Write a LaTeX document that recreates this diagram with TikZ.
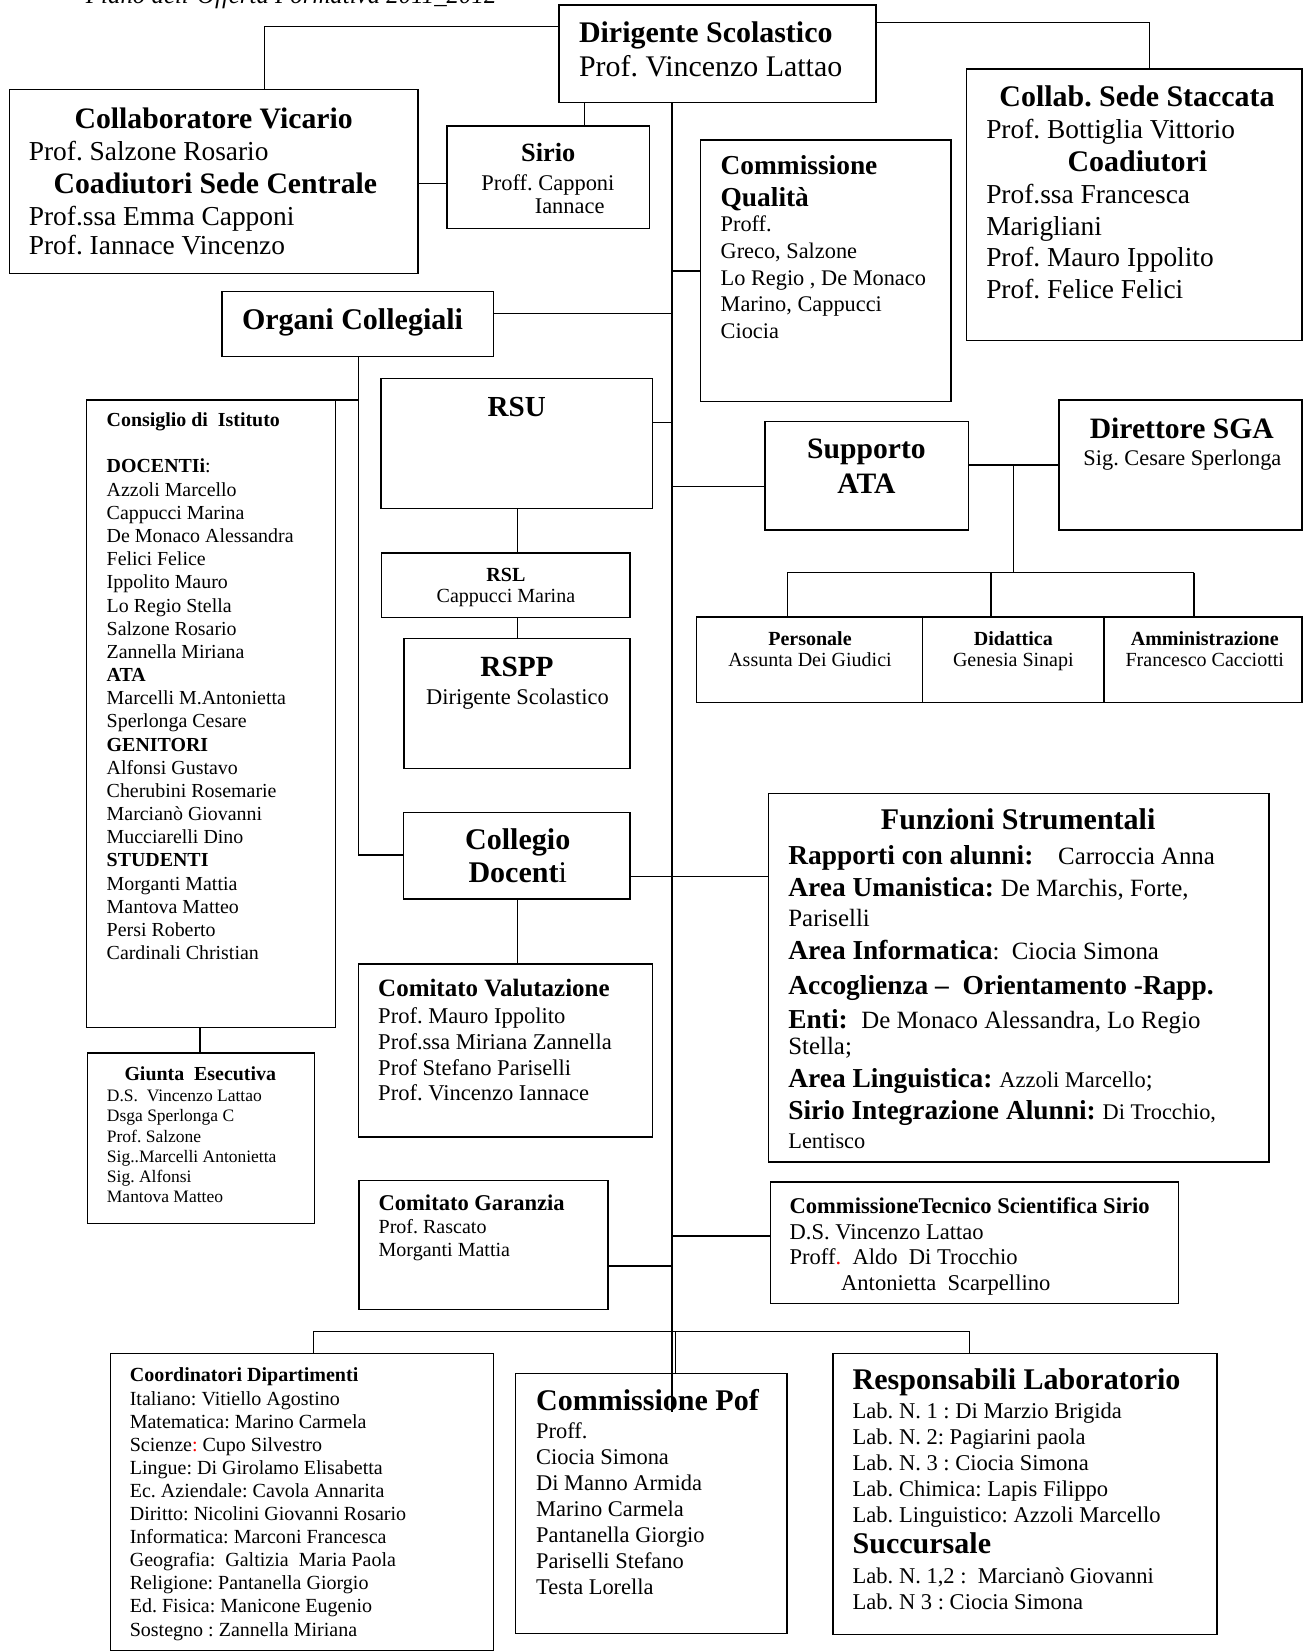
\documentclass[tikz,border=0pt]{standalone}
\usepackage{fontspec}
\setmainfont{Liberation Serif}
\newcommand\myfs[1]{\fontsize{#1}{#1}\selectfont}
\newcommand\bx[5]{\node[boxx, minimum width=#4pt-#2pt, minimum height=#5pt-#3pt] (#1) at (#2,#3) {};}
\frenchspacing
\begin{document}
\frenchspacing
\begin{tikzpicture}[x=1pt,y=-1pt,
  boxx/.style={draw, line width=1.4pt, inner sep=0pt, outer sep=0pt, anchor=north west},
  ln/.style={line width=1.4pt},
  tl/.style={anchor=base west, inner sep=0pt},
  tc/.style={anchor=base, inner sep=0pt}]
\useasboundingbox (0,0) rectangle (1237,1568);

% ---------- boxes ----------
\bx{dir}{530.6}{4.7}{831.6}{97.5}
\bx{colv}{8.8}{84.8}{396.8}{259.5}
\bx{sirio}{424.3}{119.6}{616.5}{216.8}
\bx{stacc}{917.4}{65.5}{1235.8}{323.4}
\bx{qual}{665}{132.9}{902.6}{381.3}
\bx{organi}{210.6}{276.9}{468.3}{338.6}
\bx{consiglio}{81.9}{379.7}{318.4}{975.2}
\bx{rsu}{361.6}{359.2}{619.5}{482.6}
\bx{rsl}{362.3}{524.7}{598}{586}
\bx{rspp}{383.5}{606}{598}{729.4}
\bx{supp}{726}{400.3}{919.4}{503.1}
\bx{dsga}{1005}{379.7}{1235.8}{503.1}
\bx{pers}{661}{585.4}{875.7}{666.8}
\bx{did}{875.7}{585.4}{1047.9}{666.8}
\bx{amm}{1047.9}{585.4}{1235.8}{666.8}
\bx{coll}{382.8}{771.2}{598.1}{853.1}
\bx{funz}{729.2}{752.9}{1204.5}{1102.8}
\bx{valut}{340.4}{915.1}{619.3}{1079}
\bx{giunta}{83.2}{999.3}{298.6}{1161.3}
\bx{garanz}{340.7}{1120.5}{577.2}{1242.9}
\bx{ctec}{731.2}{1122}{1118.6}{1237}
\bx{coord}{104.7}{1284.7}{468.3}{1566.8}
\bx{pof}{489.3}{1303.7}{746.8}{1550.5}
\bx{resp}{790.6}{1284.7}{1155.1}{1551.5}

% ---------- connectors ----------
\coordinate (jA) at (251,25.3);
\draw[ln] (dir.west |- jA) -| (colv.north -| jA);
\coordinate (jB) at (1091,21.5);
\draw[ln] (dir.east |- jB) -| (stacc.north -| jB);
\coordinate (jC) at (554.6,0);
\draw[ln] (dir.south -| jC) -- (sirio.north -| jC);
\coordinate (jD) at (0,174);
\draw[ln] (colv.east |- jD) -- (sirio.west |- jD);
\coordinate (sp) at (637.6,1340);
\draw[ln] (dir.south -| sp) -- (sp);
\coordinate (jE) at (0,257);
\draw[ln] (sp |- jE) -- (qual.west |- jE);
\coordinate (jF) at (0,297.5);
\draw[ln] (organi.east |- jF) -- (sp |- jF);
\coordinate (jG) at (340.4,811.7);
\draw[ln] (organi.south -| jG) -- (jG) -- (coll.west |- jG);
\draw[ln] (consiglio.north east) -- (consiglio.north east -| jG);
\coordinate (jH) at (0,401);
\draw[ln] (rsu.east |- jH) -- (sp |- jH);
\coordinate (jI) at (491.4,0);
\draw[ln] (rsu.south -| jI) -- (rsl.north -| jI);
\draw[ln] (rsl.south -| jI) -- (rspp.north -| jI);
\coordinate (jJ) at (0,462);
\draw[ln] (sp |- jJ) -- (supp.west |- jJ);
\coordinate (jK) at (962,441.4);
\draw[ln] (supp.east |- jK) -- (dsga.west |- jK);
\coordinate (jL) at (962,543.6);
\draw[ln] (jK) -- (jL);
\coordinate (jM1) at (747.2,543.6);
\coordinate (jM2) at (940.7,543.6);
\coordinate (jM3) at (1133.4,543.6);
\draw[ln] (jM1) -- (jM3);
\draw[ln] (jM1) -- (pers.north -| jM1);
\draw[ln] (jM2) -- (did.north -| jM2);
\draw[ln] (jM3) -- (amm.north -| jM3);
\coordinate (jN) at (0,832);
\draw[ln] (coll.east |- jN) -- (funz.west |- jN);
\draw[ln] (coll.south -| jI) -- (valut.north -| jI);
\coordinate (jO) at (189.8,0);
\draw[ln] (consiglio.south -| jO) -- (giunta.north -| jO);
\coordinate (jP) at (0,1201.5);
\draw[ln] (garanz.east |- jP) -- (sp |- jP);
\coordinate (jQ) at (0,1173);
\draw[ln] (sp |- jQ) -- (ctec.west |- jQ);
\coordinate (jR1) at (297.7,1264);
\coordinate (jR2) at (920.4,1264);
\coordinate (jR3) at (640.9,1264);
\draw[ln] (coord.north -| jR1) -- (jR1) -- (jR2) -- (resp.north -| jR2);
\draw[ln] (jR3) -- (pof.north -| jR3);

% ---------- texts ----------
\node[tl, font=\myfs{23.6}\itshape] (hdr) at (81.4,3.2) {Piano dell'Offerta Formativa 2011\_2012};

\node[tl, font=\myfs{28.4}\bfseries] (tdir1) at (549.4,40) {Dirigente Scolastico};
\node[tl, font=\myfs{28.4}] (tdir2) at (549.4,73) {Prof. Vincenzo Lattao};

\node[tc, font=\myfs{28.2}\bfseries] (tcv1) at (202.8,121.8) {Collaboratore Vicario};
\node[tl, font=\myfs{26}] (tcv2) at (27.2,151.9) {Prof. Salzone Rosario};
\node[tc, font=\myfs{28.2}\bfseries] (tcv3) at (204.4,183.5) {Coadiutori Sede Centrale};
\node[tl, font=\myfs{26}] (tcv4) at (27.2,213.6) {Prof.ssa Emma Capponi};
\node[tl, font=\myfs{26}] (tcv5) at (27.2,242) {Prof. Iannace Vincenzo};

\node[tc, font=\myfs{25}\bfseries] (tsi1) at (520.4,153.5) {Sirio};
\node[tl, font=\myfs{21.3}] (tsi2) at (456.8,180.4) {Proff. Capponi};
\node[tl, font=\myfs{21.3}] (tsi3) at (507.4,202.5) {Iannace};

\node[tc, font=\myfs{28.4}\bfseries] (tst1) at (1079.2,101.3) {Collab. Sede Staccata};
\node[tl, font=\myfs{26}] (tst2) at (935.9,131.3) {Prof. Bottiglia Vittorio};
\node[tc, font=\myfs{28.4}\bfseries] (tst3) at (1079.6,163) {Coadiutori};
\foreach [count=\i from 0] \t in {Prof.ssa Francesca, Marigliani, Prof. Mauro Ippolito, Prof. Felice Felici}
  \node[tl, font=\myfs{26}] (tstb\i) at (935.9, 193+30.1*\i) {\t};

\node[tl, font=\myfs{26}\bfseries] (tq1) at (683.8,166.1) {Commissione};
\node[tl, font=\myfs{26}\bfseries] (tq2) at (683.8,196.2) {Qualità};
\foreach [count=\i from 0] \t in {Proff., {Greco, Salzone}, {Lo Regio , De Monaco}, {Marino, Cappucci}, Ciocia}
  \node[tl, font=\myfs{21.2}] (tqb\i) at (683.8, 220+25.3*\i) {\t};

\node[tc, font=\myfs{28.5}\bfseries] (tor) at (334.6,312.6) {Organi Collegiali};

\node[tl, font=\myfs{18.9}\bfseries] (tci) at (101.1,404.9) {Consiglio di~ Istituto};
\foreach [count=\i from 0] \t in {{\textbf{DOCENTIi}:}, Azzoli Marcello, Cappucci Marina, De Monaco Alessandra, Felici Felice, Ippolito Mauro, Lo Regio Stella, Salzone Rosario, Zannella Miriana, \textbf{ATA}, Marcelli M.Antonietta, Sperlonga Cesare, \textbf{GENITORI}, Alfonsi Gustavo, Cherubini Rosemarie, Marcianò Giovanni, Mucciarelli Dino, \textbf{STUDENTI}, Morganti Mattia, Mantova Matteo, Persi Roberto, Cardinali Christian}
  \node[tl, font=\myfs{18.9}] (tcib\i) at (101.1, 448.9+22*\i) {\t};

\node[tc, font=\myfs{27.6}\bfseries] (trsu) at (490.5,395.5) {RSU};
\node[tc, font=\myfs{19}\bfseries] (trsl1) at (480.2,551.6) {RSL};
\node[tc, font=\myfs{19}] (trsl2) at (480.2,572) {Cappucci Marina};
\node[tc, font=\myfs{27.8}\bfseries] (trspp1) at (490.7,642.4) {RSPP};
\node[tc, font=\myfs{21.3}] (trspp2) at (491.1,668.3) {Dirigente Scolastico};

\node[tc, font=\myfs{28.1}\bfseries] (tsu1) at (822.4,435.1) {Supporto};
\node[tc, font=\myfs{28.1}\bfseries] (tsu2) at (822.4,468.3) {ATA};
\node[tc, font=\myfs{28.1}\bfseries] (tdg1) at (1121.7,416.1) {Direttore SGA};
\node[tc, font=\myfs{21.2}] (tdg2) at (1122.3,441.4) {Sig. Cesare Sperlonga};

\node[tc, font=\myfs{19}\bfseries] (tpe1) at (768.8,612.3) {Personale};
\node[tc, font=\myfs{19}] (tpe2) at (768.8,632.9) {Assunta Dei Giudici};
\node[tc, font=\myfs{19}\bfseries] (tdi1) at (961.8,612.3) {Didattica};
\node[tc, font=\myfs{19}] (tdi2) at (961.8,632.9) {Genesia Sinapi};
\node[tc, font=\myfs{19}\bfseries] (tam1) at (1143.5,612.3) {Amministrazione};
\node[tc, font=\myfs{19}] (tam2) at (1143.5,632.9) {Francesco Cacciotti};

\node[tc, font=\myfs{28.5}\bfseries] (tco1) at (491.4,806.3) {Collegio};
\node[tc, font=\myfs{28.5}\bfseries] (tco2) at (491.4,837.9) {Docent\mdseries i};

\node[tc, font=\myfs{28.5}\bfseries] (tfu0) at (966.4,787.5) {Funzioni Strumentali};
\node[tl, font=\myfs{23.6}] (tfu1) at (748.1,821) {\myfs{26}\textbf{Rapporti con alunni:}\hspace{23.5pt}\myfs{23.6}Carroccia Anna};
\node[tl, font=\myfs{23.6}] (tfu2) at (748.1,851) {\myfs{26}\textbf{Area Umanistica:} \myfs{23.6}De Marchis, Forte,};
\node[tl, font=\myfs{23.6}] (tfu3) at (748.1,879) {Pariselli};
\node[tl, font=\myfs{23.6}] (tfu4) at (748.1,911) {\myfs{26}\textbf{Area Informatica}\myfs{23.6}:~ Ciocia Simona};
\node[tl, font=\myfs{26}\bfseries] (tfu5) at (748.1,944) {Accoglienza –~ Orientamento -Rapp.};
\node[tl, font=\myfs{23.6}] (tfu6) at (748.1,976) {\myfs{26}\textbf{Enti:}~ \myfs{23.6}De Monaco Alessandra, Lo Regio};
\node[tl, font=\myfs{23.6}] (tfu7) at (748.1,1001) {Stella;};
\node[tl, font=\myfs{23.6}] (tfu8) at (748.1,1032) {\myfs{26}\textbf{Area Linguistica:} \myfs{21.3}Azzoli Marcello\myfs{23.6};};
\node[tl, font=\myfs{23.6}] (tfu9) at (748.1,1063) {\myfs{26}\textbf{Sirio Integrazione Alunni:} \myfs{21.2}Di Trocchio,};
\node[tl, font=\myfs{21.2}] (tfu10) at (748.1,1090) {Lentisco};

\node[tl, font=\myfs{23.7}\bfseries] (tva) at (358.8,945.5) {Comitato Valutazione};
\foreach [count=\i from 0] \t in {Prof. Mauro Ippolito, Prof.ssa Miriana Zannella, Prof Stefano Pariselli, Prof. Vincenzo Iannace}
  \node[tl, font=\myfs{21.4}] (tvab\i) at (358.8, 971.5+24.5*\i) {\t};

\node[tc, font=\myfs{18.9}\bfseries] (tgi) at (190.1,1025.9) {Giunta~ Esecutiva};
\foreach [count=\i from 0] \t in {D.S.~ Vincenzo Lattao, Dsga Sperlonga C, Prof. Salzone, Sig..Marcelli Antonietta, Sig. Alfonsi, Mantova Matteo}
  \node[tl, font=\myfs{16.6}] (tgib\i) at (101.3, 1045.8+19.1*\i) {\t};

\node[tl, font=\myfs{21.4}\bfseries] (tga1) at (359.2,1148.7) {Comitato Garanzia};
\node[tl, font=\myfs{19}] (tga2) at (359.2,1170.8) {Prof. Rascato};
\node[tl, font=\myfs{19}] (tga3) at (359.2,1193) {Morganti Mattia};

\node[tl, font=\myfs{21.4}\bfseries] (tct1) at (749.3,1152) {CommissioneTecnico Scientifica Sirio};
\node[tl, font=\myfs{21.4}] (tct2) at (749.3,1176) {D.S. Vincenzo Lattao};
\node[tl, font=\myfs{21.4}] (tct3) at (749.3,1200) {Proff\textcolor{red}{.}~ Aldo~ Di Trocchio};
\node[tl, font=\myfs{21.4}] (tct4) at (798.2,1224.5) {Antonietta~ Scarpellino};

\node[tl, font=\myfs{19}\bfseries] (tcd) at (123,1311) {Coordinatori Dipartimenti};
\foreach [count=\i from 0] \t in {Italiano: Vitiello Agostino, Matematica: Marino Carmela, Scienze\textcolor{red}{:} Cupo Silvestro, Lingue: Di Girolamo Elisabetta, Ec. Aziendale: Cavola Annarita, Diritto: Nicolini Giovanni Rosario, Informatica: Marconi Francesca, Geografia:~ Galtizia~ Maria Paola, Religione: Pantanella Giorgio, Ed. Fisica: Manicone Eugenio, Sostegno : Zannella Miriana}
  \node[tl, font=\myfs{19}] (tcdb\i) at (123, 1333.8+21.9*\i) {\t};

\node[tl, font=\myfs{28.5}\bfseries] (tpo) at (508.7,1338.5) {Commissione Pof};
\foreach [count=\i from 0] \t in {Proff., Ciocia Simona, Di Manno Armida, Marino Carmela, Pantanella Giorgio, Pariselli Stefano, Testa Lorella}
  \node[tl, font=\myfs{21.3}] (tpob\i) at (508.7, 1365+24.8*\i) {\t};

\node[tl, font=\myfs{28.5}\bfseries] (tre1) at (809.1,1319) {Responsabili Laboratorio};
\foreach [count=\i from 0] \t in {Lab. N. 1 : Di Marzio Brigida, Lab. N. 2: Pagiarini paola, Lab. N. 3 : Ciocia Simona, Lab. Chimica: Lapis Filippo, Lab. Linguistico: Azzoli Marcello}
  \node[tl, font=\myfs{21.4}] (treb\i) at (809.1, 1346.4+24.7*\i) {\t};
\node[tl, font=\myfs{28.5}\bfseries] (tre2) at (809.1,1474.6) {Succursale};
\node[tl, font=\myfs{21.4}] (tre3) at (809.1,1503) {Lab. N. 1,2 :~ Marcianò Giovanni};
\node[tl, font=\myfs{21.4}] (tre4) at (809.1,1527.7) {Lab. N 3 : Ciocia Simona};
\end{tikzpicture}
\end{document}
